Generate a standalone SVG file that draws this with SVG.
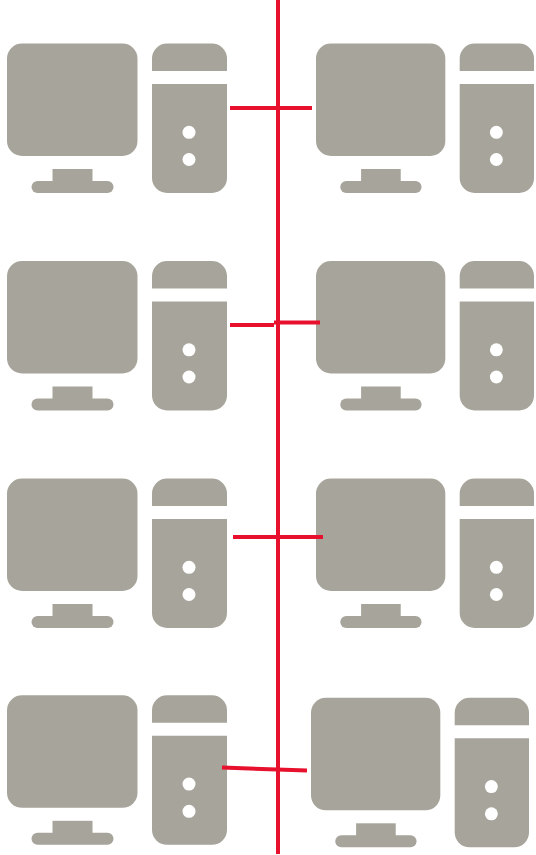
<svg xmlns="http://www.w3.org/2000/svg" width="536" height="855" viewBox="0 0 536 855">
<style>
.g{fill:#a7a59b}
.h{fill:#fff}
.w{stroke:#e8112d;fill:none;stroke-width:4}
</style>
<defs>
<g id="pc">
<rect class="g" x="7" y="43.500" width="130.500" height="112.500" rx="15"/>
<rect class="g" x="52.500" y="169" width="40" height="14"/>
<rect class="g" x="31.500" y="181" width="82" height="12" rx="6"/>
<path class="g" d="M152 71V58.500A15 15 0 0 1 167 43.500H212A15 15 0 0 1 227 58.500V71Z"/>
<path class="g" d="M152 84H227V178A15 15 0 0 1 212 193H167A15 15 0 0 1 152 178Z"/>
<circle class="h" cx="189" cy="132.300" r="6.500"/>
<circle class="h" cx="189" cy="159.500" r="6.500"/>
</g>
</defs>
<g id="pc-1-left"><use href="#pc"/></g>
<g id="pc-1-right"><use href="#pc" transform="translate(309.060 0) scale(0.991 1)"/></g>
<g id="pc-2-left"><use href="#pc" y="217.500"/></g>
<g id="pc-2-right"><use href="#pc" transform="translate(309.060 217.500) scale(0.991 1)"/></g>
<g id="pc-3-left"><use href="#pc" y="435"/></g>
<g id="pc-3-right"><use href="#pc" transform="translate(309.060 435) scale(0.991 1)"/></g>
<g id="pc-4-left"><use href="#pc" y="651.800"/></g>
<g id="pc-4-right"><use href="#pc" transform="translate(304.060 654.300) scale(0.991 1)"/></g>
<g id="connectors">
<path class="w" d="M278 0V854"/>
<path class="w" d="M230 108H312"/>
<path class="w" d="M230 325H274"/>
<path class="w" d="M274 322.500H320"/>
<path class="w" d="M233 537H323"/>
<path class="w" d="M222 767.500L307 770.500"/>
</g>
</svg>
